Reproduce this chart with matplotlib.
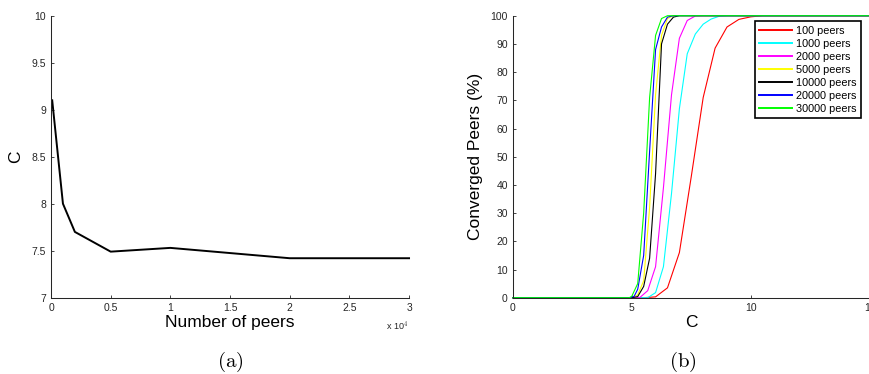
import matplotlib
matplotlib.use("Agg")
import matplotlib.pyplot as plt

plt.rcParams['font.family'] = ['Liberation Sans', 'DejaVu Sans']
plt.rcParams['mathtext.fontset'] = 'cm'

# (a) average C versus network size
n_peers = [100, 1000, 2000, 5000, 10000, 20000, 30000]
c_avg   = [9.1, 8.0, 7.7, 7.49, 7.53, 7.42, 7.42]
a_xticks      = [0, 5000, 10000, 15000, 20000, 25000, 30000]
a_xticklabels = ['0', '0.5', '1', '1.5', '2', '2.5', '3']
a_yticks      = [7, 7.5, 8, 8.5, 9, 9.5, 10]
a_yticklabels = ['7', '7.5', '8', '8.5', '9', '9.5', '10']

# (b) CDF of converged peers against C
c_100   = [0, 5.5, 6.0, 6.5, 7.0, 7.5, 8.0, 8.5, 9.0, 9.5, 10.0, 10.5, 15]
p_100   = [0, 0, 0.3, 3.5, 16, 43, 71, 88.5, 96, 98.7, 99.6, 100, 100]
c_1000  = [0, 5.67, 6.0, 6.33, 6.67, 7.0, 7.33, 7.67, 8.0, 8.33, 8.67, 9.0, 15]
p_1000  = [0, 0, 1.8, 11, 37, 67, 86.5, 93.5, 97, 98.8, 99.8, 100, 100]
c_2000  = [0, 5.33, 5.67, 6.0, 6.33, 6.67, 7.0, 7.33, 7.67, 8.0, 15]
p_2000  = [0, 0, 2.5, 11, 39, 72, 92, 98.3, 99.9, 100, 100]
c_5000  = [0, 5.0, 5.25, 5.5, 5.75, 6.0, 6.25, 6.5, 6.75, 15]
p_5000  = [0, 0, 1, 6, 32, 72, 93, 99, 100, 100]
c_10000 = [0, 5.0, 5.25, 5.5, 5.75, 6.0, 6.25, 6.5, 6.75, 7.0, 15]
p_10000 = [0, 0, 0.4, 4, 14, 44, 90, 97, 99.5, 100, 100]
c_20000 = [0, 4.9, 5.1, 5.25, 5.5, 5.75, 6.0, 6.25, 6.5, 6.75, 15]
p_20000 = [0, 0, 0.5, 3, 15, 52, 88, 96, 99.5, 100, 100]
c_30000 = [0, 4.9, 5.0, 5.25, 5.5, 5.75, 6.0, 6.25, 6.5, 15]
p_30000 = [0, 0, 0.5, 5, 30, 71, 93, 99, 100, 100]

b_labels = ['100 peers', '1000 peers', '2000 peers', '5000 peers',
            '10000 peers', '20000 peers', '30000 peers']
b_colors = ['#ff0000', '#00ffff', '#ff00ff', '#ffff00',
            '#000000', '#0000ff', '#00ff00']
b_xticks = [0, 5, 10, 15]
b_yticks = [0, 10, 20, 30, 40, 50, 60, 70, 80, 90, 100]

spine_col = '#262626'

def style_axes(ax):
    for s in ['top', 'right']:
        ax.spines[s].set_visible(False)
    for s in ['left', 'bottom']:
        ax.spines[s].set_color(spine_col)
        ax.spines[s].set_linewidth(0.75)
    ax.tick_params(direction='in', length=2.5, width=0.6, colors=spine_col,
                   labelsize=7.5, pad=3.5, labelcolor='#262626')

fig = plt.figure(figsize=(8.69, 3.74), dpi=100)

# ---- (a)
ax1 = fig.add_axes([0.0587, 0.204, 0.412, 0.754])
ax1.plot(n_peers, c_avg, color='black', lw=1.4, clip_on=False)
ax1.set_xlim(0, 30000)
ax1.set_ylim(7, 10)
ax1.set_xticks(a_xticks)
ax1.set_xticklabels(a_xticklabels)
ax1.set_yticks(a_yticks)
ax1.set_yticklabels(a_yticklabels)
style_axes(ax1)
ax1.set_xlabel('Number of peers', fontsize=12.5)
ax1.xaxis.set_label_coords(0.5, -0.062)
ax1.set_ylabel('C', fontsize=12.5)
ax1.yaxis.set_label_coords(-0.078, 0.5)
ax1.text(0.966, -0.10, r'x 10$^{4}$', transform=ax1.transAxes,
         ha='center', va='center', fontsize=6.5, color='#262626')

# ---- (b)
ax2 = fig.add_axes([0.590, 0.204, 0.411, 0.754])
series = [(c_100, p_100), (c_1000, p_1000), (c_2000, p_2000), (c_5000, p_5000),
          (c_10000, p_10000), (c_20000, p_20000), (c_30000, p_30000)]
for (cx, py), lab, col in zip(series, b_labels, b_colors):
    ax2.plot(cx, py, color=col, lw=0.8, label=lab, clip_on=False)
ax2.set_xlim(0, 15)
ax2.set_ylim(0, 100)
ax2.set_xticks(b_xticks)
ax2.set_yticks(b_yticks)
style_axes(ax2)
ax2.set_xlabel('C', fontsize=12.5)
ax2.xaxis.set_label_coords(0.5, -0.062)
ax2.set_ylabel('Converged Peers (%)', fontsize=12.5)
ax2.yaxis.set_label_coords(-0.083, 0.5)
leg = ax2.legend(loc='upper right', bbox_to_anchor=(0.974, 0.98),
                 borderaxespad=0, fontsize=7.8, handlelength=3.0,
                 handletextpad=0.35, labelspacing=0.28, borderpad=0.4,
                 fancybox=False, framealpha=1)
leg.get_frame().set_edgecolor('black')
leg.get_frame().set_linewidth(1.2)
for h in leg.get_lines():
    h.set_linewidth(1.4)

fig.text(0.2647, 0.032, r'$\mathrm{(a)}$', ha='center', va='center', fontsize=15)
fig.text(0.786, 0.032, r'$\mathrm{(b)}$', ha='center', va='center', fontsize=15)

fig.savefig('out.png', dpi=100)
